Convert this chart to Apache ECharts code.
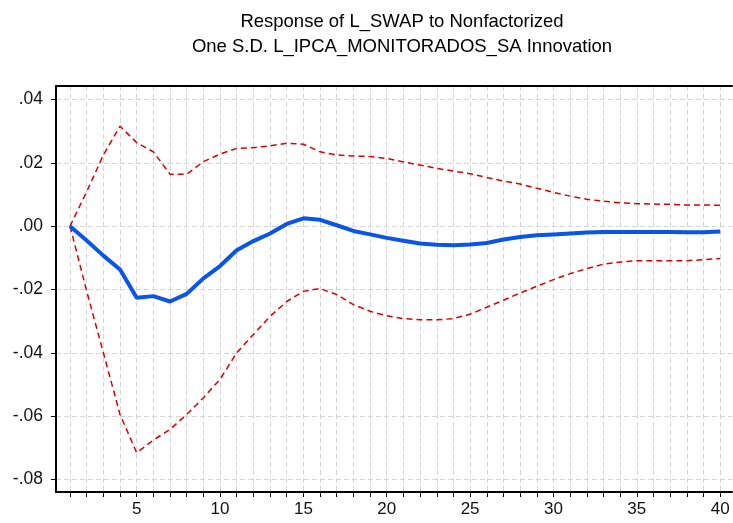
<!DOCTYPE html>
<html><head><meta charset="utf-8">
<script src="https://cdn.jsdelivr.net/npm/echarts@6/dist/echarts.min.js"></script>
<style>html,body{margin:0;padding:0;background:#fff}#c{width:733px;height:523px}</style>
</head><body><div id="c"></div>
<script>
const titleLines = ["Response of L_SWAP to Nonfactorized", "One S.D. L_IPCA_MONITORADOS_SA Innovation"];
const periods = Array.from({length: 40}, (_, i) => i + 1);
const response = [0, -0.0045, -0.0093, -0.0137, -0.0226, -0.0221, -0.0238, -0.0214, -0.0165, -0.0126,
  -0.0076, -0.0047, -0.0023, 0.0007, 0.0025, 0.0020, 0.0003, -0.0015, -0.0026, -0.0037,
  -0.0046, -0.0055, -0.0059, -0.0060, -0.0058, -0.0053, -0.0042, -0.0034, -0.0029, -0.0026,
  -0.0023, -0.0020, -0.0018, -0.0018, -0.0018, -0.0018, -0.0018, -0.0019, -0.0019, -0.0017];
const upper = [0, 0.0109, 0.0225, 0.0316, 0.0264, 0.0235, 0.0164, 0.0164, 0.0204, 0.0228,
  0.0246, 0.0248, 0.0254, 0.0262, 0.0259, 0.0235, 0.0225, 0.0222, 0.0220, 0.0214,
  0.0203, 0.0193, 0.0183, 0.0174, 0.0166, 0.0154, 0.0143, 0.0133, 0.0120, 0.0107,
  0.0095, 0.0085, 0.0079, 0.0074, 0.0071, 0.0070, 0.0069, 0.0067, 0.0067, 0.0066];
const lower = [0, -0.0205, -0.0400, -0.0595, -0.0716, -0.0676, -0.0642, -0.0595, -0.0542, -0.0484,
  -0.0400, -0.0342, -0.0285, -0.0238, -0.0206, -0.0197, -0.0216, -0.0248, -0.0269, -0.0283,
  -0.0292, -0.0296, -0.0296, -0.0292, -0.0278, -0.0256, -0.0234, -0.0211, -0.0190, -0.0169,
  -0.0150, -0.0134, -0.0120, -0.0113, -0.0109, -0.0109, -0.0109, -0.0109, -0.0106, -0.0102];
const xLabelValues = [5, 10, 15, 20, 25, 30, 35, 40];
const yTickValues = [-0.08, -0.06, -0.04, -0.02, 0, 0.02, 0.04];

function fmtY(v) {
  const s = Math.abs(v).toFixed(2).replace(/^0/, '');
  return (v < -1e-9 ? '-' : '') + s;
}
const pair = arr => periods.map((p, i) => [p, arr[i]]);
const FONT = '"Liberation Sans", Arial, sans-serif';

const chart = echarts.init(document.getElementById('c'), null, {renderer: 'canvas'});
chart.setOption({
  animation: false,
  backgroundColor: '#fff',
  title: {
    text: titleLines.join('\n'),
    left: 397, top: 4, textAlign: 'center',
    textStyle: {fontFamily: FONT, fontWeight: 'normal', fontSize: 18.5, color: '#000', lineHeight: 25}
  },
  grid: {left: 56, right: 1, top: 86, bottom: 31, containLabel: false},
  xAxis: [{
    type: 'value', min: 0.16, max: 40.71, position: 'bottom',
    axisLine: {show: true, onZero: false, lineStyle: {color: '#000', width: 2}},
    axisTick: {show: true, customValues: periods, length: 5, lineStyle: {color: '#000', width: 1}},
    axisLabel: {show: true, customValues: xLabelValues, fontFamily: FONT, fontSize: 17, color: '#111', margin: 9},
    splitLine: {show: true, lineStyle: {color: '#d6d6d6', type: [5, 3], width: 1}}
  }, {
    type: 'value', min: 0.16, max: 40.71, position: 'top',
    axisLine: {show: true, onZero: false, lineStyle: {color: '#000', width: 2}},
    axisTick: {show: false}, axisLabel: {show: false}, splitLine: {show: false}
  }],
  yAxis: {
    type: 'value', min: -0.0840, max: 0.0443,
    axisLine: {show: true, onZero: false, lineStyle: {color: '#000', width: 2}},
    axisTick: {show: true, customValues: yTickValues, length: 5, lineStyle: {color: '#000', width: 1}},
    axisLabel: {show: true, customValues: yTickValues, formatter: fmtY, fontFamily: FONT, fontSize: 17.5, color: '#111', margin: 13},
    splitLine: {show: true, lineStyle: {color: '#d6d6d6', type: [5, 3], width: 1}}
  },
  series: [
    {type: 'line', data: pair(upper), symbol: 'none', z: 3,
      lineStyle: {color: '#dd0000', width: 1.5, type: [6, 4]}},
    {type: 'line', data: pair(lower), symbol: 'none', z: 3,
      lineStyle: {color: '#dd0000', width: 1.5, type: [6, 4]}},
    {type: 'line', data: pair(response), symbol: 'none', z: 4,
      lineStyle: {color: '#0a55e8', width: 4}}
  ]
});
</script></body></html>
